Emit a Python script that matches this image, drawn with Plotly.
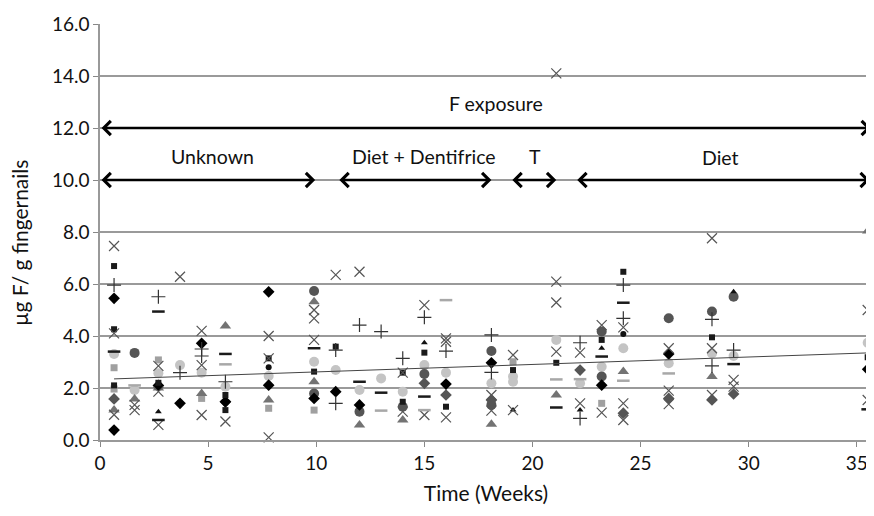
import plotly.graph_objects as go

# ---- data (weeks, µg F / g fingernails) ----
black_diamond_x = [0.65, 0.65, 2.7, 3.7, 4.7, 7.8, 7.8, 10.9, 12, 16, 18.1, 23.2, 26.3, 35.5, 5.8, 9.9]
black_diamond_y = [5.45, 0.38, 2.1, 1.41, 3.72, 5.7, 2.11, 1.86, 1.35, 2.15, 2.97, 2.11, 3.31, 2.72, 1.47, 1.6]

black_square_x = [0.65, 0.65, 0.65, 2.7, 5.8, 5.8, 9.9, 10.9, 14, 14, 15, 16, 19.1, 21.1, 23.2, 24.2, 28.3, 35.5, 7.8]
black_square_y = [6.69, 4.26, 2.1, 2.2, 1.73, 1.15, 2.63, 3.59, 2.59, 1.47, 3.36, 1.28, 2.69, 2.97, 3.85, 6.47, 3.95, 3.18, 3.14]

gray_x_x = [0.65, 0.65, 0.65, 1.6, 1.6, 2.7, 2.7, 2.7, 3.7, 4.7, 4.7, 4.7, 5.8, 7.8, 7.8, 7.8, 9.9, 9.9, 9.9,
            10.9, 12, 14, 14, 15, 15, 16, 16, 16, 18.1, 18.1, 19.1, 19.1, 21.1, 21.1, 21.1, 21.1, 22.2, 22.2,
            23.2, 23.2, 24.2, 24.2, 24.2, 26.3, 26.3, 26.3, 28.3, 28.3, 28.3, 29.3, 29.3, 35.5, 35.5]
gray_x_y = [7.46, 0.97, 4.1, 1.35, 1.15, 2.85, 1.86, 0.58, 6.28, 4.2, 2.88, 0.96, 0.71, 4.0, 3.14, 0.1, 5.0, 4.68, 3.85,
            6.35, 6.47, 2.59, 1.09, 5.19, 0.96, 3.91, 3.78, 0.87, 1.73, 1.13, 3.27, 1.15, 14.1, 6.09, 5.29, 3.4, 3.36, 1.41,
            4.42, 1.05, 4.33, 1.41, 0.77, 3.53, 1.9, 1.38, 7.76, 3.53, 1.73, 2.31, 2.05, 5.0, 1.54]

plus_x = [0.65, 2.7, 3.7, 4.7, 4.7, 5.8, 10.9, 10.9, 12, 13, 14, 15, 16, 18.1, 18.1, 22.2, 22.2, 24.2, 24.2, 28.3, 28.3, 29.3]
plus_y = [5.96, 5.51, 2.59, 3.23, 3.5, 2.24, 3.46, 1.41, 4.42, 4.17, 3.14, 4.72, 3.42, 4.04, 2.6, 3.74, 0.83, 5.96, 4.68, 4.64, 2.85, 3.46]

dark_dash_x = [0.65, 2.7, 2.7, 5.8, 9.9, 12, 13, 15, 21.1, 23.2, 24.2, 29.3, 35.5]
dark_dash_y = [3.4, 4.94, 0.77, 3.31, 3.53, 2.24, 1.82, 1.67, 1.25, 3.21, 5.28, 2.92, 1.18]

gray_triangle_x = [0.65, 1.6, 2.7, 4.7, 5.8, 7.8, 9.9, 9.9, 12, 14, 18.1, 21.1, 24.2, 28.3, 35.5]
gray_triangle_y = [1.15, 1.58, 2.0, 1.79, 4.38, 1.54, 5.32, 2.24, 0.58, 0.77, 0.61, 1.73, 2.63, 2.44, 8.04]

dark_circle_x = [1.6, 9.9, 9.9, 12, 14, 15, 18.1, 18.1, 23.2, 23.2, 26.3, 28.3, 29.3]
dark_circle_y = [3.35, 5.73, 1.79, 1.09, 1.28, 2.54, 3.42, 1.35, 4.17, 2.44, 4.68, 4.94, 5.51]

light_circle_x = [0.65, 1.6, 2.7, 3.7, 4.7, 5.8, 7.8, 9.9, 10.9, 12, 13, 14, 15, 16, 18.1, 19.1, 19.1, 21.1,
                  22.2, 23.2, 24.2, 26.3, 28.3, 29.3, 35.5]
light_circle_y = [3.31, 1.92, 2.57, 2.88, 2.59, 2.05, 2.46, 3.01, 2.69, 1.92, 2.37, 1.86, 2.88, 2.59, 2.18, 2.44, 2.24, 3.85,
                  2.18, 2.82, 3.53, 2.95, 3.33, 3.23, 3.74]

light_square_x = [0.65, 0.65, 2.7, 4.7, 7.8, 19.1, 23.2, 9.9]
light_square_y = [2.78, 1.96, 3.08, 1.6, 1.22, 3.01, 1.41, 1.15]

light_dash_x = [5.8, 13, 16, 22.2, 24.2, 26.3, 21.1, 1.6, 15]
light_dash_y = [2.91, 1.13, 5.38, 2.34, 2.28, 2.56, 2.33, 2.1, 1.15]

small_triangle_x = [2.7, 15, 22.2, 23.2, 29.3, 19.1]
small_triangle_y = [1.09, 3.74, 1.15, 3.53, 5.7, 1.15]

small_circle_x = [7.8, 24.2]
small_circle_y = [2.8, 4.08]

dark_diamond_x = [0.65, 15, 16, 18.1, 22.2, 24.2, 26.3, 28.3, 29.3, 5.8]
dark_diamond_y = [1.58, 2.18, 1.73, 1.54, 2.69, 1.03, 1.6, 1.54, 1.77, 1.47]

trend_x = [0.65, 35.5]
trend_y = [2.35, 3.35]

# exposure periods: (label, start week, end week, level)
period_labels = ["F exposure", "Unknown", "Diet + Dentifrice", "T", "Diet"]
period_start = [0, 0, 11.0, 19.0, 22.0]
period_end = [35.65, 9.95, 18.1, 21.1, 35.6]
period_level = [12, 10, 10, 10, 10]
label_x = [18.3, 5.2, 15.0, 20.1, 28.7]
label_y = [12.95, 10.9, 10.9, 10.9, 10.85]

x_ticks = [0, 5, 10, 15, 20, 25, 30, 35]
y_ticks = [0, 2, 4, 6, 8, 10, 12, 14, 16]

FONT = "Lato, 'Open Sans', sans-serif"

fig = go.Figure()

def add(xs, ys, symbol, size, color, lw=0, lcolor=None):
    fig.add_trace(go.Scatter(
        x=xs, y=ys, mode="markers", showlegend=False, hoverinfo="skip", cliponaxis=False,
        marker=dict(symbol=symbol, size=size, color=color,
                    line=dict(width=lw, color=lcolor or color))))

add(light_square_x, light_square_y, "square", 7, "#a0a0a0")
add(light_circle_x, light_circle_y, "circle", 10, "#c4c4c4")
add(gray_triangle_x, gray_triangle_y, "triangle-up", 10, "#737373")
add(dark_circle_x, dark_circle_y, "circle", 10, "#555555")
add(dark_diamond_x, dark_diamond_y, "diamond", 9, "#555555")
add(black_diamond_x, black_diamond_y, "diamond", 9, "#000000")
add(black_square_x, black_square_y, "square", 6, "#1a1a1a")
add(small_triangle_x, small_triangle_y, "triangle-up", 6, "#111111")
add(small_circle_x, small_circle_y, "circle", 6, "#111111")
add(gray_x_x, gray_x_y, "x-thin", 10, "#555555", 1.2, "#555555")
add(plus_x, plus_y, "cross-thin", 10, "#333333", 1.2, "#333333")
add(dark_dash_x, dark_dash_y, "line-ew", 9, "#1a1a1a", 2.5, "#1a1a1a")
add(light_dash_x, light_dash_y, "line-ew", 9, "#a8a8a8", 2.5, "#a8a8a8")

fig.add_trace(go.Scatter(x=trend_x, y=trend_y, mode="lines", showlegend=False,
                         hoverinfo="skip", line=dict(color="#444444", width=1)))

for lab, s, e, lev, lx, ly in zip(period_labels, period_start, period_end, period_level, label_x, label_y):
    fig.add_annotation(x=e, y=lev, ax=s, ay=lev, xref="x", yref="y", axref="x", ayref="y",
                       text="", showarrow=True, arrowhead=4, arrowside="end+start",
                       arrowsize=1.1, arrowwidth=2.5, arrowcolor="#000000", standoff=0, startstandoff=0)
    fig.add_annotation(x=lx, y=ly, xref="x", yref="y", text=lab, showarrow=False,
                       font=dict(family=FONT, size=19.5, color="#111111"))

# y-axis title placed as rotated text beside the axis
fig.add_annotation(x=-0.104, y=7.6, xref="paper", yref="y", text="µg F/ g fingernails",
                   textangle=-90, showarrow=False, xanchor="center", yanchor="middle",
                   font=dict(family=FONT, size=21, color="#111111"))

# page body has an 8px default margin, so the figure is drawn 8px in from the window edges
fig.update_layout(
    width=866, height=500,
    margin=dict(l=92, r=2, t=16, b=68),
    paper_bgcolor="white", plot_bgcolor="white",
    font=dict(family=FONT, size=19, color="#111111"),
    xaxis=dict(range=[0, 35.7], tickvals=x_ticks, ticks="outside", ticklen=5,
               tickcolor="#888888", showgrid=False, zeroline=False, automargin=False,
               showline=True, linecolor="#999999", linewidth=1.5,
               title=dict(text="Time (Weeks)", standoff=14, font=dict(size=21)),
               tickfont=dict(size=19)),
    yaxis=dict(range=[0, 16], tickvals=y_ticks, tickformat=".1f", ticks="outside", ticklen=5,
               tickcolor="#888888", showgrid=True, gridcolor="#9a9a9a", gridwidth=1.5,
               zeroline=False, showline=True, linecolor="#999999", linewidth=1.5, automargin=False,
               tickfont=dict(size=19)),
)

fig.write_html("out.html")
